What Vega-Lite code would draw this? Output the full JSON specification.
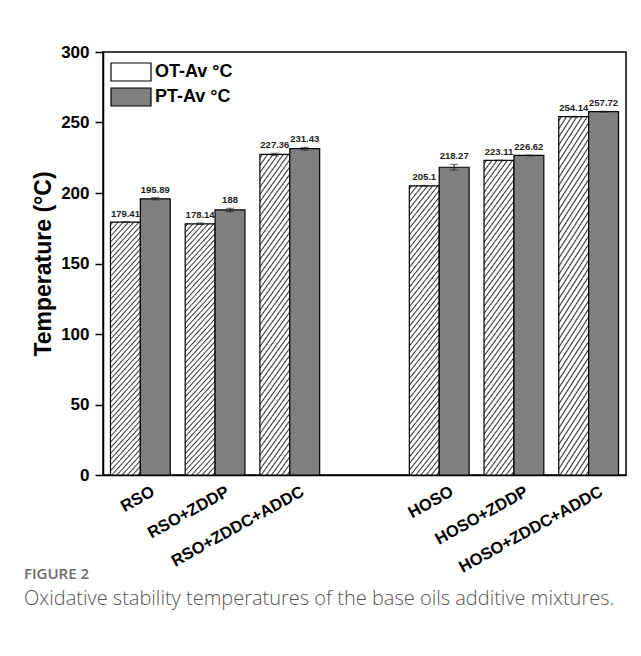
{
  "$schema": "https://vega.github.io/schema/vega-lite/v6.json",
  "width": 523,
  "height": 423,
  "autosize": {"type": "none"},
  "padding": {"left": 103, "top": 52, "right": 15, "bottom": 181},
  "background": "white",
  "config": {
    "view": {"stroke": "black", "strokeWidth": 1.5},
    "font": "Liberation Sans"
  },
  "title": {
    "text": "FIGURE 2",
    "subtitle": "Oxidative stability temperatures of the base oils additive mixtures.",
    "orient": "bottom",
    "anchor": "start",
    "frame": "group",
    "dx": -79,
    "offset": -9,
    "font": "Open Sans",
    "fontSize": 15,
    "fontWeight": 600,
    "color": "#6a6a6a",
    "subtitleFont": "Open Sans",
    "subtitleFontSize": 20,
    "subtitleFontWeight": 300,
    "subtitleColor": "#555555",
    "subtitlePadding": 7
  },
  "data": {
    "values": [
      {"cat": "RSO", "series": "OT-Av °C", "value": 179.41, "lo": 179.1, "hi": 179.7, "lab": "179.41"},
      {"cat": "RSO", "series": "PT-Av °C", "value": 195.89, "lo": 195.1, "hi": 196.7, "lab": "195.89"},
      {"cat": "RSO+ZDDP", "series": "OT-Av °C", "value": 178.14, "lo": 177.6, "hi": 178.7, "lab": "178.14"},
      {"cat": "RSO+ZDDP", "series": "PT-Av °C", "value": 188, "lo": 186.8, "hi": 189.2, "lab": "188"},
      {"cat": "RSO+ZDDC+ADDC", "series": "OT-Av °C", "value": 227.36, "lo": 226.5, "hi": 228.2, "lab": "227.36"},
      {"cat": "RSO+ZDDC+ADDC", "series": "PT-Av °C", "value": 231.43, "lo": 230.4, "hi": 232.4, "lab": "231.43"},
      {"cat": "HOSO", "series": "OT-Av °C", "value": 205.1, "lo": 204.8, "hi": 205.4, "lab": "205.1"},
      {"cat": "HOSO", "series": "PT-Av °C", "value": 218.27, "lo": 216.3, "hi": 220.3, "lab": "218.27"},
      {"cat": "HOSO+ZDDP", "series": "OT-Av °C", "value": 223.11, "lo": 222.9, "hi": 223.3, "lab": "223.11"},
      {"cat": "HOSO+ZDDP", "series": "PT-Av °C", "value": 226.62, "lo": 226.3, "hi": 226.9, "lab": "226.62"},
      {"cat": "HOSO+ZDDC+ADDC", "series": "OT-Av °C", "value": 254.14, "lo": 253.8, "hi": 254.4, "lab": "254.14"},
      {"cat": "HOSO+ZDDC+ADDC", "series": "PT-Av °C", "value": 257.72, "lo": 257.4, "hi": 258.0, "lab": "257.72"}
    ]
  },
  "encoding": {
    "x": {
      "field": "cat",
      "type": "nominal",
      "scale": {
        "domain": ["RSO", "RSO+ZDDP", "RSO+ZDDC+ADDC", " ", "HOSO", "HOSO+ZDDP", "HOSO+ZDDC+ADDC"],
        "paddingInner": 0.2,
        "paddingOuter": 0.1
      },
      "axis": {
        "title": null,
        "labelAngle": -29,
        "labelAlign": "right",
        "labelBaseline": "top",
        "labelFontSize": 16.5,
        "labelFontWeight": "bold",
        "labelColor": "black",
        "labelPadding": 8,
        "labelOffset": 9,
        "labelLimit": 0,
        "ticks": false,
        "domainColor": "black",
        "domainWidth": 1.5
      }
    },
    "xOffset": {
      "field": "series",
      "type": "nominal",
      "scale": {"domain": ["OT-Av °C", "PT-Av °C"], "paddingInner": 0, "paddingOuter": 0}
    }
  },
  "layer": [
    {
      "mark": {"type": "bar", "stroke": "black", "strokeWidth": 1.2},
      "encoding": {
        "y": {
          "field": "value",
          "type": "quantitative",
          "scale": {"domain": [0, 300], "nice": false},
          "axis": {
            "title": "Temperature (°C)",
            "titleFontSize": 23,
            "titleFontWeight": "bold",
            "titleColor": "black",
            "titlePadding": 5,
            "values": [0, 25, 50, 75, 100, 125, 150, 175, 200, 225, 250, 275, 300],
            "labelExpr": "datum.value % 50 === 0 ? datum.label : ''",
            "labelFontSize": 17,
            "labelFontWeight": "bold",
            "labelColor": "black",
            "labelPadding": 6,
            "tickSize": {"condition": {"test": "datum.value % 50 === 0", "value": 8}, "value": 4},
            "tickColor": "black",
            "tickWidth": 1.5,
            "domainColor": "black",
            "domainWidth": 1.5,
            "grid": false
          }
        },
        "fill": {
          "field": "series",
          "type": "nominal",
          "scale": {"domain": ["OT-Av °C", "PT-Av °C"], "range": ["#ffffff", "#7f7f7f"]},
          "condition": {
            "test": "datum.series === 'OT-Av °C'",
            "value": {
              "gradient": "linear", "x1": 0, "y1": 0, "x2": 0.1445, "y2": 1.1112,
              "stops": [
                {"offset": 0.005, "color": "#fff"}, {"offset": 0.01, "color": "#333"}, {"offset": 0.015, "color": "#fff"},
                {"offset": 0.025, "color": "#fff"}, {"offset": 0.03, "color": "#333"}, {"offset": 0.035, "color": "#fff"},
                {"offset": 0.045, "color": "#fff"}, {"offset": 0.05, "color": "#333"}, {"offset": 0.055, "color": "#fff"},
                {"offset": 0.065, "color": "#fff"}, {"offset": 0.07, "color": "#333"}, {"offset": 0.075, "color": "#fff"},
                {"offset": 0.085, "color": "#fff"}, {"offset": 0.09, "color": "#333"}, {"offset": 0.095, "color": "#fff"},
                {"offset": 0.105, "color": "#fff"}, {"offset": 0.11, "color": "#333"}, {"offset": 0.115, "color": "#fff"},
                {"offset": 0.125, "color": "#fff"}, {"offset": 0.13, "color": "#333"}, {"offset": 0.135, "color": "#fff"},
                {"offset": 0.145, "color": "#fff"}, {"offset": 0.15, "color": "#333"}, {"offset": 0.155, "color": "#fff"},
                {"offset": 0.165, "color": "#fff"}, {"offset": 0.17, "color": "#333"}, {"offset": 0.175, "color": "#fff"},
                {"offset": 0.185, "color": "#fff"}, {"offset": 0.19, "color": "#333"}, {"offset": 0.195, "color": "#fff"},
                {"offset": 0.205, "color": "#fff"}, {"offset": 0.21, "color": "#333"}, {"offset": 0.215, "color": "#fff"},
                {"offset": 0.225, "color": "#fff"}, {"offset": 0.23, "color": "#333"}, {"offset": 0.235, "color": "#fff"},
                {"offset": 0.245, "color": "#fff"}, {"offset": 0.25, "color": "#333"}, {"offset": 0.255, "color": "#fff"},
                {"offset": 0.265, "color": "#fff"}, {"offset": 0.27, "color": "#333"}, {"offset": 0.275, "color": "#fff"},
                {"offset": 0.285, "color": "#fff"}, {"offset": 0.29, "color": "#333"}, {"offset": 0.295, "color": "#fff"},
                {"offset": 0.305, "color": "#fff"}, {"offset": 0.31, "color": "#333"}, {"offset": 0.315, "color": "#fff"},
                {"offset": 0.325, "color": "#fff"}, {"offset": 0.33, "color": "#333"}, {"offset": 0.335, "color": "#fff"},
                {"offset": 0.345, "color": "#fff"}, {"offset": 0.35, "color": "#333"}, {"offset": 0.355, "color": "#fff"},
                {"offset": 0.365, "color": "#fff"}, {"offset": 0.37, "color": "#333"}, {"offset": 0.375, "color": "#fff"},
                {"offset": 0.385, "color": "#fff"}, {"offset": 0.39, "color": "#333"}, {"offset": 0.395, "color": "#fff"},
                {"offset": 0.405, "color": "#fff"}, {"offset": 0.41, "color": "#333"}, {"offset": 0.415, "color": "#fff"},
                {"offset": 0.425, "color": "#fff"}, {"offset": 0.43, "color": "#333"}, {"offset": 0.435, "color": "#fff"},
                {"offset": 0.445, "color": "#fff"}, {"offset": 0.45, "color": "#333"}, {"offset": 0.455, "color": "#fff"},
                {"offset": 0.465, "color": "#fff"}, {"offset": 0.47, "color": "#333"}, {"offset": 0.475, "color": "#fff"},
                {"offset": 0.485, "color": "#fff"}, {"offset": 0.49, "color": "#333"}, {"offset": 0.495, "color": "#fff"},
                {"offset": 0.505, "color": "#fff"}, {"offset": 0.51, "color": "#333"}, {"offset": 0.515, "color": "#fff"},
                {"offset": 0.525, "color": "#fff"}, {"offset": 0.53, "color": "#333"}, {"offset": 0.535, "color": "#fff"},
                {"offset": 0.545, "color": "#fff"}, {"offset": 0.55, "color": "#333"}, {"offset": 0.555, "color": "#fff"},
                {"offset": 0.565, "color": "#fff"}, {"offset": 0.57, "color": "#333"}, {"offset": 0.575, "color": "#fff"},
                {"offset": 0.585, "color": "#fff"}, {"offset": 0.59, "color": "#333"}, {"offset": 0.595, "color": "#fff"},
                {"offset": 0.605, "color": "#fff"}, {"offset": 0.61, "color": "#333"}, {"offset": 0.615, "color": "#fff"},
                {"offset": 0.625, "color": "#fff"}, {"offset": 0.63, "color": "#333"}, {"offset": 0.635, "color": "#fff"},
                {"offset": 0.645, "color": "#fff"}, {"offset": 0.65, "color": "#333"}, {"offset": 0.655, "color": "#fff"},
                {"offset": 0.665, "color": "#fff"}, {"offset": 0.67, "color": "#333"}, {"offset": 0.675, "color": "#fff"},
                {"offset": 0.685, "color": "#fff"}, {"offset": 0.69, "color": "#333"}, {"offset": 0.695, "color": "#fff"},
                {"offset": 0.705, "color": "#fff"}, {"offset": 0.71, "color": "#333"}, {"offset": 0.715, "color": "#fff"},
                {"offset": 0.725, "color": "#fff"}, {"offset": 0.73, "color": "#333"}, {"offset": 0.735, "color": "#fff"},
                {"offset": 0.745, "color": "#fff"}, {"offset": 0.75, "color": "#333"}, {"offset": 0.755, "color": "#fff"},
                {"offset": 0.765, "color": "#fff"}, {"offset": 0.77, "color": "#333"}, {"offset": 0.775, "color": "#fff"},
                {"offset": 0.785, "color": "#fff"}, {"offset": 0.79, "color": "#333"}, {"offset": 0.795, "color": "#fff"},
                {"offset": 0.805, "color": "#fff"}, {"offset": 0.81, "color": "#333"}, {"offset": 0.815, "color": "#fff"},
                {"offset": 0.825, "color": "#fff"}, {"offset": 0.83, "color": "#333"}, {"offset": 0.835, "color": "#fff"},
                {"offset": 0.845, "color": "#fff"}, {"offset": 0.85, "color": "#333"}, {"offset": 0.855, "color": "#fff"},
                {"offset": 0.865, "color": "#fff"}, {"offset": 0.87, "color": "#333"}, {"offset": 0.875, "color": "#fff"},
                {"offset": 0.885, "color": "#fff"}, {"offset": 0.89, "color": "#333"}, {"offset": 0.895, "color": "#fff"},
                {"offset": 0.905, "color": "#fff"}, {"offset": 0.91, "color": "#333"}, {"offset": 0.915, "color": "#fff"},
                {"offset": 0.925, "color": "#fff"}, {"offset": 0.93, "color": "#333"}, {"offset": 0.935, "color": "#fff"},
                {"offset": 0.945, "color": "#fff"}, {"offset": 0.95, "color": "#333"}, {"offset": 0.955, "color": "#fff"},
                {"offset": 0.965, "color": "#fff"}, {"offset": 0.97, "color": "#333"}, {"offset": 0.975, "color": "#fff"},
                {"offset": 0.985, "color": "#fff"}, {"offset": 0.99, "color": "#333"}, {"offset": 0.995, "color": "#fff"}
              ]
            }
          },
          "legend": {
            "orient": "none",
            "legendX": 17,
            "legendY": 9,
            "title": null,
            "padding": 0,
            "symbolType": "M-2,-0.9H2V0.9H-2Z",
            "symbolSize": 400,
            "symbolStrokeColor": "black",
            "symbolStrokeWidth": 1.2,
            "labelFontSize": 18,
            "labelFontWeight": "bold",
            "labelColor": "black",
            "labelOffset": 13,
            "rowPadding": 1,
            "encode": {
              "symbols": {
                "update": {
                  "stroke": {"value": "black"},
                  "strokeWidth": {"value": 1.2},
                  "opacity": {"value": 1}
                }
              }
            }
          }
        }
      }
    },
    {
      "mark": {"type": "rule", "color": "#222222", "strokeWidth": 1},
      "encoding": {
        "y": {"field": "lo", "type": "quantitative"},
        "y2": {"field": "hi"}
      }
    },
    {
      "mark": {"type": "tick", "color": "#222222", "size": 8, "thickness": 1},
      "encoding": {"y": {"field": "lo", "type": "quantitative"}}
    },
    {
      "mark": {"type": "tick", "color": "#222222", "size": 8, "thickness": 1},
      "encoding": {"y": {"field": "hi", "type": "quantitative"}}
    },
    {
      "mark": {"type": "text", "baseline": "bottom", "dy": -3, "fontSize": 9.5, "fontWeight": "bold", "color": "#222222"},
      "encoding": {
        "y": {"field": "hi", "type": "quantitative"},
        "text": {"field": "lab"}
      }
    }
  ]
}
